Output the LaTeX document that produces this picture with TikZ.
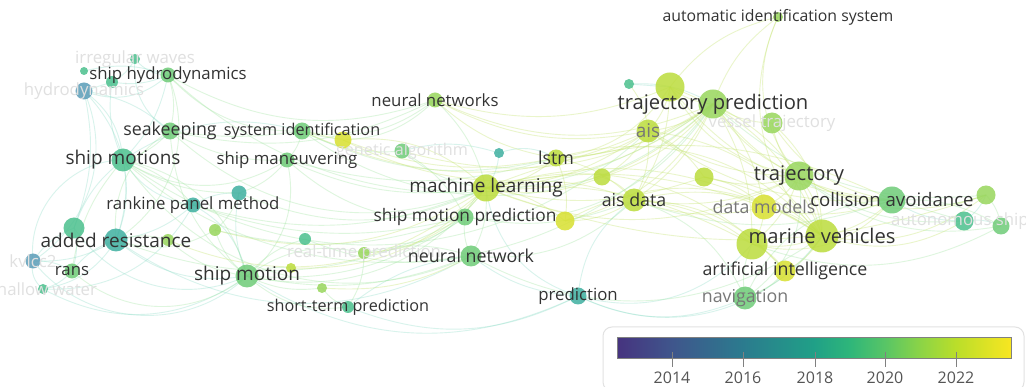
\documentclass[tikz,border=0pt]{standalone}
\usepackage{fontspec}
\setmainfont{Open Sans}
\usetikzlibrary{backgrounds}
\definecolor{vA}{HTML}{46337F}
\definecolor{vB}{HTML}{3F568C}
\definecolor{vC}{HTML}{2B7B8E}
\definecolor{vD}{HTML}{20A087}
\definecolor{vE}{HTML}{2EB67A}
\definecolor{vF}{HTML}{58C566}
\definecolor{vG}{HTML}{8CD446}
\definecolor{vH}{HTML}{BADE2A}
\definecolor{vI}{HTML}{F8E621}
\pgfdeclarehorizontalshading{viridisbar}{100bp}{color(0bp)=(vA); color(25bp)=(vA); color(32bp)=(vB); color(41bp)=(vC); color(50bp)=(vD); color(54.5bp)=(vE); color(59bp)=(vF); color(63.5bp)=(vG); color(68bp)=(vH); color(75bp)=(vI); color(100bp)=(vI)}
\definecolor{nB}{HTML}{5A9DB8}
\definecolor{nT}{HTML}{3FB0A0}
\definecolor{nM}{HTML}{4CC08E}
\definecolor{nG}{HTML}{6FCC78}
\definecolor{nL}{HTML}{98D65C}
\definecolor{nY}{HTML}{BCDC3C}
\definecolor{nZ}{HTML}{D8E030}
\definecolor{eT}{HTML}{8ADCC6}
\definecolor{eG}{HTML}{9CE49C}
\definecolor{eY}{HTML}{C8E678}
\definecolor{labdark}{HTML}{333333}
\definecolor{labmid}{HTML}{777777}
\definecolor{labfaint}{HTML}{E0E0E0}
\definecolor{legline}{HTML}{E2E2E2}
\definecolor{legtxt}{HTML}{555555}
\newcommand{\fsz}[1]{\fontsize{#1}{#1}\selectfont}
\tikzset{
  bub/.style={circle, inner sep=0pt, draw=none, fill opacity=.85},
  lab/.style={inner sep=0pt, text=labdark},
  labm/.style={inner sep=0pt, text=labmid},
  labf/.style={inner sep=0pt, text=labfaint},
  edgeT/.style={draw=eT, draw opacity=.33, line width=.9pt},
  edgeG/.style={draw=eG, draw opacity=.33, line width=.9pt},
  edgeY/.style={draw=eY, draw opacity=.38, line width=.9pt},
  tick/.style={draw=gray, line width=1pt},
  yearlab/.style={inner sep=0pt, text=legtxt, font=\fsz{16}}
}
\begin{document}
\begin{tikzpicture}[x=1pt,y=-1pt]
\useasboundingbox (0,0) rectangle (1026,387);
% bubbles
\node[bub, minimum size=10pt, fill=nM] (iw) at (135,59) {};
\node[bub, minimum size=8pt, fill=nM] (sha) at (84,71) {};
\node[bub, minimum size=12pt, fill=nM] (shb) at (112,82) {};
\node[bub, minimum size=15pt, fill=nG] (shd) at (168,75) {};
\node[bub, minimum size=17pt, fill=nB] (hyd) at (84,91) {};
\node[bub, minimum size=17pt, fill=nG] (sea) at (170,131) {};
\node[bub, minimum size=23pt, fill=nM] (smo) at (123,160) {};
\node[bub, minimum size=17pt, fill=nG] (sid) at (302,131) {};
\node[bub, minimum size=17pt, fill=nZ] (yel) at (343,140) {};
\node[bub, minimum size=15pt, fill=nG] (ga) at (402,151) {};
\node[bub, minimum size=15pt, fill=nG] (sma) at (287,160) {};
\node[bub, minimum size=15pt, fill=nT] (rpm) at (193,205) {};
\node[bub, minimum size=15pt, fill=nT] (u1) at (239,193) {};
\node[bub, minimum size=21pt, fill=nM] (u2) at (74,228) {};
\node[bub, minimum size=23pt, fill=nT] (ar) at (116,240) {};
\node[bub, minimum size=12pt, fill=nL] (u3) at (168,240) {};
\node[bub, minimum size=12pt, fill=nL] (u4) at (215,230) {};
\node[bub, minimum size=15pt, fill=nB] (kv) at (33,261) {};
\node[bub, minimum size=15pt, fill=nG] (rans) at (72,271) {};
\node[bub, minimum size=10pt, fill=nM] (sw) at (43,289) {};
\node[bub, minimum size=23pt, fill=nG] (sm) at (247,276) {};
\node[bub, minimum size=12pt, fill=nM] (u5) at (305,239) {};
\node[bub, minimum size=10pt, fill=nY] (u6) at (291,268) {};
\node[bub, minimum size=12pt, fill=nL] (rtp) at (364,253) {};
\node[bub, minimum size=10pt, fill=nL] (u7) at (322,288) {};
\node[bub, minimum size=12pt, fill=nM] (stp) at (348,307) {};
\node[bub, minimum size=15pt, fill=nL] (nns) at (435,100) {};
\node[bub, minimum size=10pt, fill=nT] (u8) at (499,153) {};
\node[bub, minimum size=17pt, fill=nY] (lstm) at (556,158) {};
\node[bub, minimum size=27pt, fill=nY] (ml) at (486,188) {};
\node[bub, minimum size=17pt, fill=nG] (smp) at (465,217) {};
\node[bub, minimum size=19pt, fill=nZ] (u9) at (565,221) {};
\node[bub, minimum size=21pt, fill=nG] (nn) at (471,256) {};
\node[bub, minimum size=17pt, fill=nT] (pred) at (578,296) {};
\node[bub, minimum size=10pt, fill=nM] (u10) at (629,84) {};
\node[bub, minimum size=29pt, fill=nY] (u11) at (670,87) {};
\node[bub, minimum size=29pt, fill=nL] (tp) at (713,104) {};
\node[bub, minimum size=23pt, fill=nY] (ais) at (648,131) {};
\node[bub, minimum size=21pt, fill=nL] (vt) at (772,123) {};
\node[bub, minimum size=17pt, fill=nY] (u12) at (602,177) {};
\node[bub, minimum size=19pt, fill=nY] (u13) at (704,177) {};
\node[bub, minimum size=23pt, fill=nY] (aisd) at (634,200) {};
\node[bub, minimum size=29pt, fill=nL] (traj) at (799,176) {};
\node[bub, minimum size=25pt, fill=nZ] (dm) at (764,207) {};
\node[bub, minimum size=27pt, fill=nG] (ca) at (892,200) {};
\node[bub, minimum size=19pt, fill=nL] (u14) at (986,195) {};
\node[bub, minimum size=19pt, fill=nM] (as) at (964,221) {};
\node[bub, minimum size=17pt, fill=nG] (u15) at (1001,226) {};
\node[bub, minimum size=31pt, fill=nY] (u16) at (752,244) {};
\node[bub, minimum size=33pt, fill=nY] (mv) at (822,236) {};
\node[bub, minimum size=21pt, fill=nZ] (aint) at (785,271) {};
\node[bub, minimum size=23pt, fill=nG] (nav) at (745,298) {};
\node[bub, minimum size=10pt, fill=nL] (aisys) at (778,17) {};
% connectors
\begin{scope}[on background layer]
\fill[white] (0,0) rectangle (1026,387);
\foreach \a/\b/\c in {iw/shb/10, iw/shd/-15, sha/shd/10, shb/shd/-10, hyd/shb/0, hyd/smo/15, hyd/ar/20, hyd/kv/25, hyd/u2/10, shb/smo/-10, shd/smo/10, smo/ar/10, smo/u2/-10, smo/rpm/-15, ar/kv/10, ar/rans/-10, ar/sw/15, u2/kv/-10, u2/rans/10, kv/sw/-20, kv/rans/10, rans/sw/10, rpm/ar/10, rpm/u1/10, rpm/sm/15, u1/sm/-10, ar/sm/-15, u2/sm/-25, kv/sm/-30, sw/sm/-20, stp/nn/10, stp/pred/-15, pred/nn/10, pred/u16/-20, pred/mv/-25, pred/ml/20, u8/ml/10, u8/ga/-10, u8/lstm/15, u10/tp/10, u10/u11/0, as/ca/10, as/u14/-10, as/u15/10, hyd/shd/-20, iw/sea/-20, kv/smo/30, sw/rpm/-20, smo/sid/15, hyd/sea/10, pred/nav/-15, pred/aisd/15, ar/nn/-20, sm/pred/-18}
  {\pgfmathsetmacro\bb{1.6*\c}
  \draw[edgeT, bend left=\bb] (\a.center) to (\b.center);}
\foreach \a/\b/\c in {shd/sea/10, shd/sid/-15, shd/ar/25, sea/smo/10, sea/sid/-5, sea/ar/-20, sea/sm/-15, sea/sma/-10, smo/sm/20, smo/rans/-10, smo/u1/-10, smo/rpm/10, smo/sma/-20, ar/u3/10, ar/u4/-15, rans/sm/-25, sm/u3/10, sm/u4/10, sm/stp/-15, sm/rtp/15, sm/u7/-10, sm/u6/10, sm/u5/10, sid/sma/10, sid/ga/-10, sid/nns/-15, sma/sm/20, sma/u1/10, sma/smp/-15, sma/ml/-10, u1/u4/10, u4/smp/-10, u5/nn/-10, rtp/smp/-10, rtp/nn/10, stp/u7/10, stp/rtp/-10, ga/smp/10, ga/ml/-10, nns/ml/10, nns/sid/20, smp/ml/10, smp/nn/-10, smp/tp/-20, smp/aisd/-10, nn/ml/-10, nn/aisd/-15, nn/mv/-20, sm/nn/-10, smo/nn/-25, sea/ml/-20, shd/tp/-25, sid/tp/-25, sm/ml/-20, ar/smp/-15, rpm/smp/-10, u1/ml/-15, ca/u14/-10, ca/u15/10, nav/aisd/-15, nav/mv/-10, nav/ca/20, nav/u16/10, nav/aint/-10, nav/traj/-20, u15/u14/-10, ca/as/0, u16/u15/-15, smo/tp/-30, shd/nns/-15, sea/nns/-12, sid/lstm/-12, sma/lstm/-10, rpm/ml/-12, sm/smp/-12, smo/ais/-25, traj/as/-12, traj/u15/-15, aisd/ca/-12, tp/u14/-15}
  {\pgfmathsetmacro\bb{1.6*\c}
  \draw[edgeG, bend left=\bb] (\a.center) to (\b.center);}
\foreach \a/\b/\c in {ml/lstm/-10, ml/aisd/10, ml/tp/-15, ml/ais/-10, ml/traj/-15, ml/mv/15, ml/u16/10, ml/aint/20, ml/dm/10, ml/u9/10, ml/u12/-10, ml/u13/-10, lstm/tp/-10, lstm/ais/-10, lstm/aisd/10, lstm/u11/-15, lstm/u9/10, u11/tp/-10, u11/ais/10, u11/traj/-15, u11/aisd/10, u11/mv/15, tp/ais/10, tp/traj/-10, tp/aisd/10, tp/mv/15, tp/dm/10, tp/vt/-10, tp/u16/10, tp/ca/-15, ais/aisd/10, ais/traj/-10, ais/u13/10, ais/mv/15, ais/u12/10, aisd/u16/10, aisd/mv/15, aisd/dm/-10, aisd/aint/15, aisd/traj/-10, traj/dm/10, traj/mv/10, traj/ca/-10, traj/u16/10, traj/vt/10, dm/mv/10, dm/u16/10, dm/ca/-10, mv/u16/10, mv/aint/10, mv/ca/-10, u16/aint/10, mv/u14/-15, mv/as/-15, traj/u14/-15, u16/ca/-20, aisys/u11/-12, aisys/tp/-10, aisys/traj/-20, aisys/mv/-22, u9/aisd/-10, u9/tp/-15, u9/mv/20, u12/aisd/10, u12/tp/-10, u13/traj/-10, u13/mv/10, u13/dm/10, yel/ml/15, yel/lstm/-10, yel/tp/-20, yel/sid/0, vt/ca/-15, vt/mv/15, u10/ais/10, lstm/mv/20, nns/tp/-15, nns/lstm/-10, u6/ml/-15, rtp/ml/-15, u3/ml/-20, u4/ml/-15, u7/nn/-10, ml/ca/15, nns/ais/-12, nns/u11/-12, ga/tp/-15, sid/ais/-15, u11/ca/-15, ais/ca/-12, ml/u14/-12}
  {\pgfmathsetmacro\bb{1.6*\c}
  \draw[edgeY, bend left=\bb] (\a.center) to (\b.center);}
\end{scope}
% labels
\node[labf, font=\fsz{16.8}] (iw-l) at (iw) {irregular waves};
\node[labf, font=\fsz{16.8}] (hyd-l) at (hyd) {hydrodynamics};
\node[lab, font=\fsz{16.8}] (shd-l) at (shd) {ship hydrodynamics};
\node[lab, font=\fsz{17.8}] (sea-l) at (sea) {seakeeping};
\node[lab, font=\fsz{19}] (smo-l) at (smo) {ship motions};
\node[lab, font=\fsz{16.2}] (sid-l) at (sid) {system identification};
\node[labf, font=\fsz{16.2}] (ga-l) at (ga) {genetic algorithm};
\node[lab, font=\fsz{16.8}] (sma-l) at (sma) {ship maneuvering};
\node[lab, font=\fsz{16.8}] (rpm-l) at (rpm) {rankine panel method};
\node[lab, font=\fsz{19}] (ar-l) at (ar) {added resistance};
\node[labf, font=\fsz{16.8}] (kv-l) at (kv) {kvlcc2};
\node[lab, font=\fsz{16.8}] (rans-l) at (rans) {rans};
\node[labf, font=\fsz{16.8}] (sw-l) at (sw) {shallow water};
\node[lab, font=\fsz{19}] (sm-l) at (sm) {ship motion};
\node[labf, font=\fsz{16.8}] (rtp-l) at (rtp) {real-time prediction};
\node[lab, font=\fsz{16.2}] (stp-l) at (stp) {short-term prediction};
\node[lab, font=\fsz{16.8}] (nns-l) at (nns) {neural networks};
\node[lab, font=\fsz{17.8}] (lstm-l) at (lstm) {lstm};
\node[lab, font=\fsz{19}] (ml-l) at (ml) {machine learning};
\node[lab, font=\fsz{17.3}] (smp-l) at (smp) {ship motion prediction};
\node[lab, font=\fsz{17.8}] (nn-l) at (nn) {neural network};
\node[lab, font=\fsz{16.8}] (pred-l) at (pred) {prediction};
\node[lab, font=\fsz{20.2}] (tp-l) at (tp) {trajectory prediction};
\node[labm, font=\fsz{19}] (ais-l) at (ais) {ais};
\node[labf, font=\fsz{16.8}] (vt-l) at (vt) {vessel trajectory};
\node[lab, font=\fsz{17.8}] (aisd-l) at (aisd) {ais data};
\node[lab, font=\fsz{20.2}] (traj-l) at (traj) {trajectory};
\node[labm, font=\fsz{17.8}] (dm-l) at (dm) {data models};
\node[lab, font=\fsz{18.6}] (ca-l) at (ca) {collision avoidance};
\node[labf, font=\fsz{16.8}] (as-l) at (as) {autonomous ships};
\node[lab, font=\fsz{20.2}] (mv-l) at (mv) {marine vehicles};
\node[lab, font=\fsz{17.8}] (aint-l) at (aint) {artificial intelligence};
\node[labm, font=\fsz{17.8}] (nav-l) at (nav) {navigation};
\node[lab, font=\fsz{15.8}] (aisys-l) at (aisys) {automatic identification system};
% legend
\node[draw=legline, line width=1pt, rounded corners=9pt, fill=white, minimum width=421pt, minimum height=64pt, inner sep=0pt] (legend) at (813.5,359) {};
\node[draw=gray, line width=1pt, shading=viridisbar, minimum width=394pt, minimum height=21pt, inner sep=0pt] (cbar) at (814,348.5) {};
\foreach \x/\y in {672/2014, 743/2016, 815/2018, 885/2020, 956/2022}{
  \draw[tick] (\x,352) -- (\x,367);
  \node[yearlab] (yr\y) at (\x,378) {\y};
}
\end{tikzpicture}
\end{document}
